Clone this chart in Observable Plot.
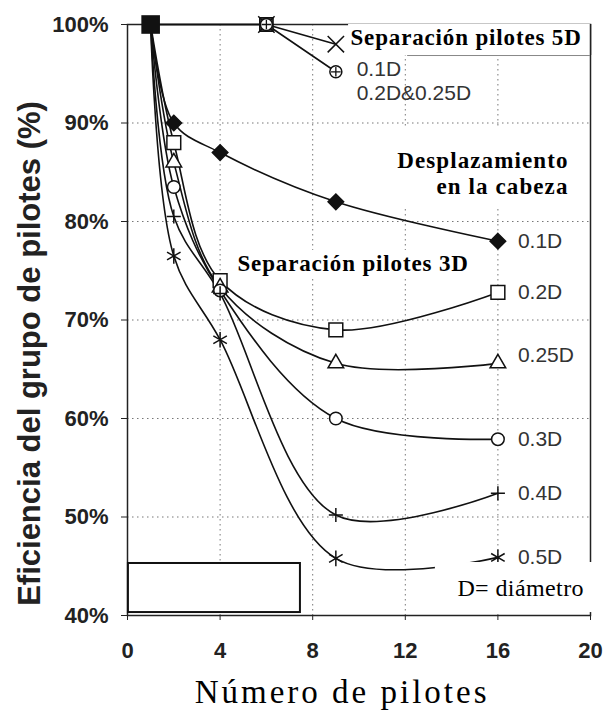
<!DOCTYPE html>
<html><head><meta charset="utf-8">
<script src="https://cdn.jsdelivr.net/npm/d3@7"></script>
<script src="https://cdn.jsdelivr.net/npm/@observablehq/plot@0.6"></script>
<style>body{margin:0;background:#fff}#chart svg{display:block}</style>
</head><body><div id="chart"></div><script>
// ---- data ----
const x3D = [1, 2, 4, 9, 16];
const s3D_01 = [100, 90, 87, 82, 78];
const s3D_02 = [100, 88, 74, 69, 72.8];
const s3D_025 = [100, 86, 73.3, 65.6, 65.6];
const s3D_03 = [100, 83.5, 73, 60, 57.9];
const s3D_04 = [100, 80.5, 72.7, 50.2, 52.4];
const s3D_05 = [100, 76.5, 68, 45.8, 45.9];
const x5D = [1, 6, 9];
const s5D_01 = [100, 100, 98];
const s5D_0225 = [100, 100, 95.2];
const seriesNames3D = ["0.1D", "0.2D", "0.25D", "0.3D", "0.4D", "0.5D"];
const xTicks = [0, 4, 8, 12, 16, 20];
const yTicks = [40, 50, 60, 70, 80, 90, 100];
const xGrid = [4, 8, 12, 16];
const yGrid = [50, 60, 70, 80, 90];

const vals3D = [s3D_01, s3D_02, s3D_025, s3D_03, s3D_04, s3D_05];
const rows3D = vals3D.flatMap((ys, i) => x3D.map((x, j) => ({series: seriesNames3D[i], x, y: ys[j]})));
const rows5D = [["0.1D", s5D_01], ["0.2D&0.25D", s5D_0225]]
  .flatMap(([name, ys]) => x5D.map((x, j) => ({series: name, x, y: ys[j]})));
const pts = (name) => rows3D.filter(d => d.series === name && d.x !== 1);
const last = rows3D.filter(d => d.x === 16);

const sans = "Liberation Sans, Arial, Helvetica, sans-serif";
const serif = "Liberation Serif, Times New Roman, serif";
const ink = "#111";
const labelStyle = {x: "x", y: "y", text: "series", dx: 20, textAnchor: "start", lineAnchor: "middle", fontFamily: sans, fontSize: 21, fill: "#333"};

const chart = Plot.plot({
  width: 606, height: 715,
  marginLeft: 127, marginRight: 16, marginTop: 24, marginBottom: 100,
  x: {domain: [0, 20]},
  y: {domain: [40, 100]},
  style: {background: "#fff"},
  marks: [
    Plot.gridX(xGrid, {stroke: "#777", strokeOpacity: 1, strokeDasharray: "1.5,3.5"}),
    Plot.gridY(yGrid, {stroke: "#777", strokeOpacity: 1, strokeDasharray: "1.5,3.5"}),
    Plot.frame({stroke: "#222", strokeWidth: 1.5}),
    Plot.line(rows3D, {x: "x", y: "y", z: "series", curve: "catmull-rom", stroke: ink, strokeWidth: 1.6}),
    Plot.line(rows5D, {x: "x", y: "y", z: "series", stroke: ink, strokeWidth: 1.6}),
    // markers 3D
    Plot.dot(pts("0.1D"), {x: "x", y: "y", symbol: "diamond2", r: 7, fill: ink, stroke: ink}),
    Plot.dot(pts("0.2D"), {x: "x", y: "y", symbol: "square", r: 7.8, fill: "#fff", stroke: ink, strokeWidth: 1.5}),
    Plot.dot(pts("0.25D"), {x: "x", y: "y", symbol: "triangle", r: 5.8, fill: "#fff", stroke: ink, strokeWidth: 1.5}),
    Plot.dot(pts("0.3D"), {x: "x", y: "y", symbol: "circle", r: 6.3, fill: "#fff", stroke: ink, strokeWidth: 1.5}),
    Plot.dot(pts("0.4D"), {x: "x", y: "y", symbol: "plus", r: 4.6, stroke: ink, strokeWidth: 1.5}),
    Plot.dot(pts("0.5D"), {x: "x", y: "y", symbol: "asterisk", r: 7.4, stroke: ink, strokeWidth: 1.5}),
    // markers 5D
    Plot.dot(rows5D.filter(d => d.x === 6 && d.series === "0.1D"), {x: "x", y: "y", symbol: "square", r: 7.5, fill: "#555", stroke: ink, strokeWidth: 1.5}),
    Plot.dot(rows5D.filter(d => d.x !== 1 && d.series === "0.1D"), {x: "x", y: "y", symbol: "times", r: 7.5, stroke: ink, strokeWidth: 1.5}),
    Plot.dot(rows5D.filter(d => d.x !== 1 && d.series !== "0.1D"), {x: "x", y: "y", symbol: "circle", r: 6, fill: "#fff", stroke: ink, strokeWidth: 1.5}),
    Plot.dot(rows5D.filter(d => d.x !== 1 && d.series !== "0.1D"), {x: "x", y: "y", symbol: "plus", r: 3.2, stroke: ink, strokeWidth: 1.3}),
    // common start point
    Plot.dot(rows3D.filter(d => d.x === 1 && d.series === "0.1D"), {x: "x", y: "y", symbol: "square", r: 10.5, fill: ink}),
    // white boxes
    Plot.rect([0], {x1: 9.55, x2: 20, y1: 96.85, y2: 100, fill: "#fff"}),
    Plot.ruleY([96.85], {x1: 12.1, x2: 20, stroke: "#888", strokeWidth: 1}),
    Plot.ruleX([20], {y1: 96.85, y2: 100, stroke: "#222", strokeWidth: 1.5}),
    Plot.rect([0], {x1: 11.5, x2: 19.94, y1: 81.3, y2: 89.5, fill: "#fff"}),
    Plot.rect([0], {x1: 4.62, x2: 14.8, y1: 74.35, y2: 77.06, fill: "#fff"}),
    Plot.rect([0], {x1: 0.04, x2: 7.47, y1: 40.3, y2: 45.28, fill: "#fff", stroke: "#111", strokeWidth: 2}),
    Plot.rect([0], {x1: 13.3, x2: 20.69, y1: 40.3, y2: 45.38, fill: "#fff"}),
    // series labels
    Plot.text(last.filter(d => d.series !== "0.25D"), labelStyle),
    Plot.text(last.filter(d => d.series === "0.25D"), {...labelStyle, dy: -8}),
    Plot.text(["0.1D"], {x: 9.9, y: 95.48, textAnchor: "start", lineAnchor: "middle", fontFamily: sans, fontSize: 21, fill: "#333"}),
    Plot.text(["0.2D&0.25D"], {x: 9.9, y: 93.05, textAnchor: "start", lineAnchor: "middle", fontFamily: sans, fontSize: 21, fill: "#333"}),
    // annotations
    Plot.text(["Separación pilotes 5D"], {x: 9.63, y: 98.63, textAnchor: "start", lineAnchor: "middle", fontFamily: serif, fontWeight: "bold", fontSize: 23, fill: "#000"}),
    Plot.text(["Separación pilotes 3D"], {x: 4.75, y: 75.74, textAnchor: "start", lineAnchor: "middle", fontFamily: serif, fontWeight: "bold", fontSize: 23, fill: "#000"}),
    Plot.text(["Desplazamiento"], {x: 19.05, y: 86.14, textAnchor: "end", lineAnchor: "middle", fontFamily: serif, fontWeight: "bold", fontSize: 23, fill: "#000"}),
    Plot.text(["en la cabeza"], {x: 19.05, y: 83.58, textAnchor: "end", lineAnchor: "middle", fontFamily: serif, fontWeight: "bold", fontSize: 23, fill: "#000"}),
    Plot.text(["D= diámetro"], {x: 14.25, y: 42.74, textAnchor: "start", lineAnchor: "middle", fontFamily: serif, fontSize: 24, fill: "#000"}),
    // axes
    Plot.axisY(yTicks, {tickFormat: d => d + "%", tickSize: 6, tickPadding: 13, label: null, fontFamily: sans, fontWeight: "bold", fontSize: 22, fill: "#222", stroke: "#222"}),
    Plot.axisX(xTicks, {tickSize: 5, tickPadding: 22, label: null, fontFamily: sans, fontWeight: "bold", fontSize: 22, fill: "#222", stroke: "#222"}),
    Plot.text(["Eficiencia del grupo de pilotes (%)"], {x: -4.19, y: 66.6, rotate: -90, textAnchor: "middle", lineAnchor: "middle", fontFamily: sans, fontWeight: "bold", fontSize: 31, fill: "#222"}),
    Plot.text(["Número de pilotes"], {x: 9.27, y: 32.2, textAnchor: "middle", lineAnchor: "middle", fontFamily: serif, fontSize: 33, fill: "#000"})
  ]
});
document.getElementById("chart").appendChild(chart);
const spacing = {"Separación pilotes 5D": 0.85, "Separación pilotes 3D": 0.85, "Desplazamiento": 1.1, "en la cabeza": 1.1, "Número de pilotes": 3, "D= diámetro": 0.4};
d3.select(chart).selectAll("text").each(function() {
  const s = spacing[this.textContent];
  if (s) this.setAttribute("letter-spacing", s);
});
</script></body></html>
